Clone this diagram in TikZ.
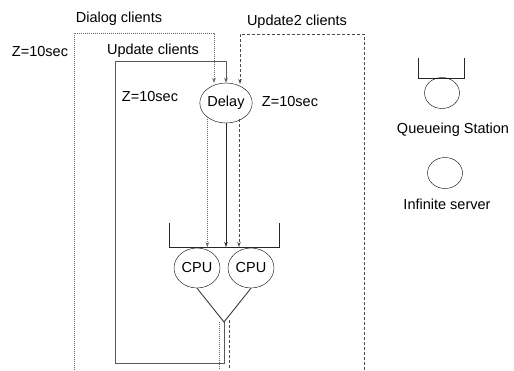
\documentclass[tikz,border=0pt]{standalone}
\usepackage{fontspec}
\setmainfont{Liberation Sans}
\usetikzlibrary{shapes.geometric, arrows.meta}

\begin{document}
\begin{tikzpicture}[
    x=1pt, y=-1pt,
    every node/.style={font=\fontsize{14.5}{16}\selectfont, inner sep=0pt},
    station/.style={ellipse, draw=black, thin, minimum width=46pt, minimum height=40pt},
    legendcirc/.style={ellipse, draw=black, thin, minimum width=35pt, minimum height=31pt},
    queueline/.style={draw=black!85, line width=0.8pt},
    loopline/.style={draw=black!65, line width=0.8pt},
    dotline/.style={draw=black!60, line width=0.7pt, dash pattern=on 1pt off 1pt},
    dashline/.style={draw=black!70, line width=0.7pt, dash pattern=on 3pt off 2pt},
    arrow/.style={-{Stealth[length=5pt, width=3.5pt]}}
]
\useasboundingbox (0,0) rectangle (514,370);

% stations
\node[station] (delay) at (226,103) {Delay};
\node[station] (cpuA) at (197,268) {CPU};
\node[station] (cpuB) at (251,268) {CPU};
\coordinate (queue) at (224,247);
\coordinate (apex) at (224,322);

% labels
\node (dialog) at (119,19) {Dialog clients};
\node (update) at (153,51) {Update clients};
\node (update2) at (297,22) {Update2 clients};
\node (zdialog) at (40,52) {Z=10sec};
\node (zupdate) at (150,97) {Z=10sec};
\node (zdelay) at (290,102) {Z=10sec};

% queue of the CPUs
\draw[queueline] (169,223) -- (169,247) -- (279,247) -- (279,223);
\draw[queueline] (cpuA.south) -- (apex) -- (cpuB.south);

% Update clients (solid loop)
\coordinate (uLow) at (115,363);
\draw[loopline, arrow] (apex) -- (apex |- uLow) -- (uLow) -- (115,61)
    -- (delay.north |- 0,61) -- (delay.north);
\draw[queueline, arrow] (delay.south) -- (delay.south |- queue);

% Dialog clients (dotted)
\draw[dotline, arrow] (74,370) -- (74,33) -- (214,33) -- (214,83);
\draw[dotline, arrow] (delay.south west) -- (delay.south west |- queue);
\draw[dotline] ([xshift=-5pt]apex) -- (219,370);

% Update2 clients (dashed)
\draw[dashline, arrow] (364,370) -- (364,34) -- (240,34) -- (240,84);
\draw[dashline, arrow] (239,119) -- (239,247);
\draw[dashline] (229,320) -- (229,370);

% legend
\draw[queueline] (418,58) -- (418,78) -- (464,78) -- (464,58);
\node[legendcirc] (qcirc) at (442,93) {};
\node (qtext) at (453,130) {Queueing Station};
\node[legendcirc] (icirc) at (445,173) {};
\node (itext) at (447,204) {Infinite server};

\end{tikzpicture}
\end{document}
